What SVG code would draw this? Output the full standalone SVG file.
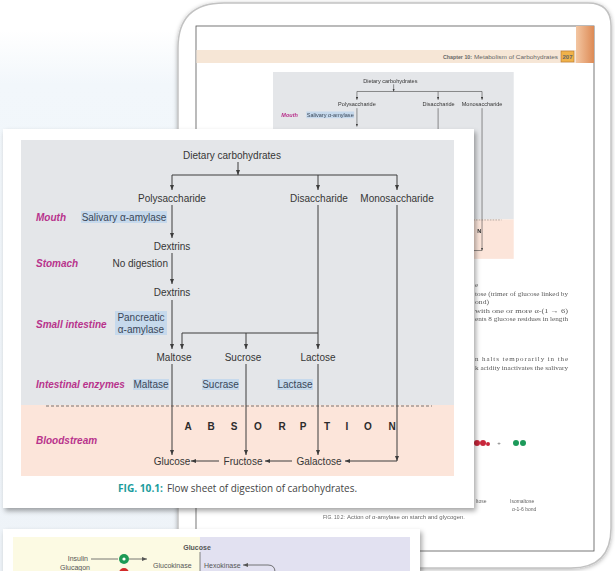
<svg xmlns="http://www.w3.org/2000/svg" xmlns:xlink="http://www.w3.org/1999/xlink" width="615" height="571" viewBox="0 0 615 571">
<style>
.t{font-family:"Liberation Sans",Arial,sans-serif;font-size:10px;fill:#363636}
.m{text-anchor:middle}
.lab{font-family:"Liberation Sans",Arial,sans-serif;font-size:10px;font-weight:bold;font-style:italic;fill:#b8338c}
.hl{fill:#c6d9ec}
.ht{font-family:"Liberation Sans",Arial,sans-serif;font-size:10px;fill:#3a4758;text-anchor:middle}
.c{fill:none;stroke:#3c3c3c;stroke-width:1}
.a{marker-end:url(#ah)}
.ab{font-family:"Liberation Sans",Arial,sans-serif;font-size:10px;font-weight:bold;fill:#2c2c2c;text-anchor:middle}
.sr{font-family:"Liberation Serif","Times New Roman",serif;font-size:7px;fill:#5a5a5a}
.ss{font-family:"Liberation Sans",Arial,sans-serif;fill:#666}
.bc{font-family:"Liberation Sans",Arial,sans-serif;font-size:7px;fill:#555}
</style>
<defs>
<marker id="ah" viewBox="0 0 10 10" refX="10" refY="5" markerWidth="5" markerHeight="5" orient="auto" markerUnits="userSpaceOnUse"><path d="M0,1 L10,5 L0,9 z" fill="#3c3c3c"/></marker>
<marker id="ah2" viewBox="0 0 10 10" refX="10" refY="5" markerWidth="5" markerHeight="5" orient="auto" markerUnits="userSpaceOnUse"><path d="M0,1 L10,5 L0,9 z" fill="#555"/></marker>
<filter id="sh" x="-5%" y="-5%" width="112%" height="115%"><feDropShadow dx="2" dy="3" stdDeviation="2.5" flood-color="#000" flood-opacity="0.35"/></filter>
<filter id="sh2" x="-5%" y="-5%" width="110%" height="110%"><feDropShadow dx="0" dy="1" stdDeviation="2" flood-color="#000" flood-opacity="0.3"/></filter>
<filter id="bl"><feGaussianBlur stdDeviation="0.35"/></filter>
<linearGradient id="bg" x1="0" y1="0" x2="0" y2="1">
<stop offset="0" stop-color="#ffffff"/><stop offset="0.1" stop-color="#f2f7fb"/><stop offset="1" stop-color="#eef3f8"/>
</linearGradient>
<linearGradient id="tab" x1="0" y1="0" x2="1" y2="0">
<stop offset="0" stop-color="#f3c6a2"/><stop offset="1" stop-color="#dd8a55"/>
</linearGradient>
</defs>

<!-- background -->
<rect x="0" y="0" width="615" height="571" fill="#ffffff"/>
<rect x="0" y="30" width="180" height="541" fill="url(#bg)"/>

<!-- back card / page -->
<g id="back-page">
<path d="M178,571 L178,48 Q178,3 224,3 L588,3 Q611,3 611,26 L611,528 Q611,568 571,568 L178,568 Z" fill="#ffffff" stroke="#c2c2c2" stroke-width="1.5" filter="url(#sh2)"/>
<rect x="196" y="26" width="398" height="525" fill="none" stroke="#555" stroke-width="0.8"/>
<rect x="196.5" y="50" width="380" height="13" fill="#f6e6d6"/>
<rect x="576" y="26" width="18" height="37" fill="url(#tab)"/>
<text x="443" y="59" class="ss" font-size="6" font-weight="bold" fill="#555" textLength="29" lengthAdjust="spacingAndGlyphs">Chapter 10:</text>
<text x="474" y="59" class="ss" font-size="6" fill="#888" textLength="84" lengthAdjust="spacingAndGlyphs">Metabolism of Carbohydrates</text>
<rect x="561" y="51" width="13" height="11" fill="#f0b24a" stroke="#a86a2a" stroke-width="0.5"/>
<text x="567.5" y="59" class="ss" font-size="6" font-weight="bold" fill="#5a3a1a" text-anchor="middle">207</text>

<use xlink:href="#fig101" href="#fig101" transform="translate(261.3,-5.8) scale(0.556)" filter="url(#bl)"/>

<g filter="url(#bl)">
<text x="475" y="287" class="sr">e</text>
<text x="475" y="296" class="sr" textLength="93" lengthAdjust="spacingAndGlyphs">tose (trimer of glucose linked by</text>
<text x="475" y="304" class="sr" textLength="14" lengthAdjust="spacingAndGlyphs">ond)</text>
<text x="475" y="313" class="sr" textLength="93" lengthAdjust="spacingAndGlyphs">with one or more α-(1 → 6)</text>
<text x="475" y="321" class="sr" textLength="93" lengthAdjust="spacingAndGlyphs">ents 8 glucose residues in length</text>
<text x="475" y="361" class="sr" textLength="93" lengthAdjust="spacing">n halts temporarily in the</text>
<text x="475" y="370" class="sr" textLength="93" lengthAdjust="spacingAndGlyphs">k acidity inactivates the salivary</text>
<circle cx="477" cy="443" r="3" fill="#c8283a"/><circle cx="483" cy="443" r="3" fill="#c8283a"/><circle cx="488" cy="444" r="2" fill="#c8283a"/>
<text x="499" y="445" class="ss" font-size="6" text-anchor="middle">+</text>
<circle cx="516" cy="443" r="3" fill="#1f9a5a"/><circle cx="523" cy="443" r="3" fill="#1f9a5a"/>
<text x="476" y="503" class="ss" font-size="5">ltose</text>
<text x="510" y="503" class="ss" font-size="5">Isomaltose</text>
<text x="512" y="511" class="ss" font-size="5">α-1-6 bond</text>
<text x="323" y="519" class="ss" font-size="5.5" fill="#2aa0a0" textLength="22" lengthAdjust="spacingAndGlyphs">FIG. 10.2:</text>
<text x="347" y="519" class="ss" font-size="5.5" textLength="118" lengthAdjust="spacingAndGlyphs">Action of α-amylase on starch and glycogen.</text>
</g>
</g>

<!-- front card -->
<g id="front-card">
<rect x="3" y="129" width="471" height="379" fill="#ffffff" filter="url(#sh)"/>
<g id="fig101">
<rect x="21" y="140" width="433" height="265" fill="#e4e6e9"/>
<rect x="21" y="405" width="433" height="71" fill="#fce5da"/>
<line x1="46" y1="406" x2="432" y2="406" stroke="#555" stroke-width="0.8" stroke-dasharray="3 2"/>

<g id="connectors">
<path class="c a" d="M238,162 V175"/>
<path class="c" d="M172,175 H397"/>
<path class="c a" d="M172,175 V190"/>
<path class="c a" d="M318,175 V190"/>
<path class="c a" d="M397,175 V190"/>
<path class="c a" d="M172,205 V238"/>
<path class="c a" d="M172,253 V284"/>
<path class="c a" d="M172,300 V349"/>
<path class="c a" d="M318,205 V349"/>
<path class="c" d="M182,333 H318"/>
<path class="c a" d="M182,333 V349"/>
<path class="c a" d="M246,333 V349"/>
<path class="c a" d="M397,205 V461"/>
<path class="c a" d="M397,461 H345"/>
<path class="c a" d="M172,364 V455"/>
<path class="c a" d="M246,364 V455"/>
<path class="c a" d="M318,364 V455"/>
<path class="c a" d="M219,461 H191"/>
<path class="c a" d="M292,461 H265"/>
</g>

<g id="n-dietary"><text class="t m" x="232" y="159">Dietary carbohydrates</text></g>
<g id="n-poly"><text class="t m" x="172" y="202">Polysaccharide</text></g>
<g id="n-di"><text class="t m" x="319" y="202">Disaccharide</text></g>
<g id="n-mono"><text class="t m" x="397" y="202">Monosaccharide</text></g>
<g id="n-dextrins1"><text class="t m" x="172" y="250">Dextrins</text></g>
<g id="n-dextrins2"><text class="t m" x="172" y="296">Dextrins</text></g>
<g id="n-maltose"><text class="t m" x="174" y="361">Maltose</text></g>
<g id="n-sucrose"><text class="t m" x="243" y="361">Sucrose</text></g>
<g id="n-lactose"><text class="t m" x="318" y="361">Lactose</text></g>
<g id="n-glucose"><text class="t m" x="172" y="464.5">Glucose</text></g>
<g id="n-fructose"><text class="t m" x="243" y="464.5">Fructose</text></g>
<g id="n-galactose"><text class="t m" x="319" y="464.5">Galactose</text></g>

<g id="e-salivary"><rect class="hl" x="81" y="211" width="86" height="12"/><text class="ht" x="124" y="220.5">Salivary α-amylase</text></g>
<g id="e-nodig"><text class="t" x="168" y="267" text-anchor="end">No digestion</text></g>
<g id="e-pancreatic"><rect class="hl" x="115" y="311" width="52" height="24"/><text class="ht" x="141" y="320.5">Pancreatic</text><text class="ht" x="141" y="332.5">α-amylase</text></g>
<g id="e-maltase"><rect class="hl" x="133" y="379" width="36" height="11"/><text class="ht" x="151" y="388">Maltase</text></g>
<g id="e-sucrase"><rect class="hl" x="202" y="379" width="37" height="11"/><text class="ht" x="220.5" y="388">Sucrase</text></g>
<g id="e-lactase"><rect class="hl" x="277" y="379" width="36" height="11"/><text class="ht" x="295" y="388">Lactase</text></g>

<g id="labels">
<text class="lab" x="36" y="221">Mouth</text>
<text class="lab" x="36" y="267">Stomach</text>
<text class="lab" x="36" y="328">Small intestine</text>
<text class="lab" x="36" y="388">Intestinal enzymes</text>
<text class="lab" x="36" y="444">Bloodstream</text>
</g>

<g id="absorption">
<text class="ab" x="188" y="430">A</text>
<text class="ab" x="211" y="430">B</text>
<text class="ab" x="234" y="430">S</text>
<text class="ab" x="258" y="430">O</text>
<text class="ab" x="282" y="430">R</text>
<text class="ab" x="303" y="430">P</text>
<text class="ab" x="327" y="430">T</text>
<text class="ab" x="347" y="430">I</text>
<text class="ab" x="368" y="430">O</text>
<text class="ab" x="392" y="430">N</text>
</g>
</g>
<g id="caption">
<text x="118" y="492" font-family="'Open Sans','Noto Sans',sans-serif" font-size="10" font-weight="bold" fill="#1a9c9c" textLength="45" lengthAdjust="spacingAndGlyphs">FIG. 10.1:</text>
<text x="167" y="492" font-family="'Open Sans','Noto Sans',sans-serif" font-size="10" fill="#444" textLength="190" lengthAdjust="spacingAndGlyphs">Flow sheet of digestion of carbohydrates.</text>
</g>
</g>

<!-- bottom card -->
<g id="bottom-card">
<rect x="3" y="529" width="417" height="60" fill="#ffffff" filter="url(#sh)"/>
<rect x="13" y="537" width="187" height="40" fill="#fcfae3"/>
<rect x="200" y="537" width="210" height="40" fill="#e2e1f1"/>
<text x="197" y="550" class="bc" font-size="7.5" font-weight="bold" fill="#333" text-anchor="middle">Glucose</text>
<text x="88" y="561" class="bc" text-anchor="end">Insulin</text>
<line x1="91" y1="559" x2="118" y2="559" stroke="#555" stroke-width="0.8"/>
<circle cx="124" cy="559" r="5" fill="#1d9a55"/><circle cx="124" cy="559" r="1.6" fill="#fff"/>
<line x1="129" y1="559" x2="147" y2="559" stroke="#555" stroke-width="0.8" marker-end="url(#ah2)"/>
<text x="90" y="570" class="bc" font-size="6.5" text-anchor="end">Glucagon</text>
<circle cx="124" cy="573" r="5" fill="#d22a2a"/>
<line x1="200" y1="552" x2="200" y2="571" stroke="#666" stroke-width="0.8"/>
<text x="153" y="568" class="bc">Glucokinase</text>
<text x="204" y="568" class="bc">Hexokinase</text>
<path d="M268,565 H243" stroke="#555" stroke-width="0.8" fill="none" marker-end="url(#ah2)"/>
<path d="M268,565 Q275,565 275,572" stroke="#555" stroke-width="0.8" fill="none"/>
</g>
</svg>
